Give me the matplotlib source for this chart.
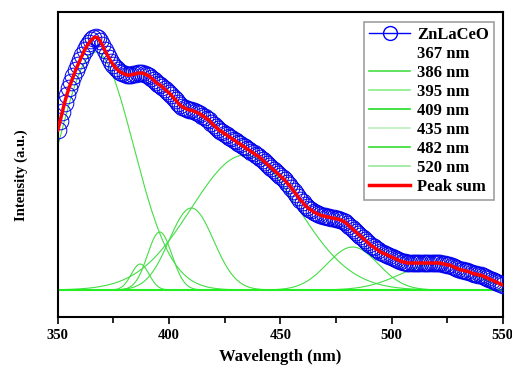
import numpy as np
import matplotlib
matplotlib.use('Agg')
import matplotlib.pyplot as plt
from matplotlib.lines import Line2D

plt.rcParams['font.family'] = ['Liberation Serif', 'DejaVu Serif']
plt.rcParams['font.weight'] = 'bold'

# measured spectrum, 350-550 nm every 1 nm (arb. units)
wavelength = np.arange(350, 551, 1)
intensity = [160, 169, 178, 187, 195, 202, 208, 214, 220, 225,   # 350
             230, 235, 240, 244, 247, 250, 252, 253, 252, 249,   # 360
             245, 240, 236, 232, 228, 225, 222, 220, 218, 217,   # 370
             216, 215, 215, 215, 216, 216, 217, 217, 217, 216,   # 380
             215, 214, 212, 210, 208, 206, 205, 203, 201, 199,   # 390
             197, 195, 192, 190, 187, 185, 183, 182, 181, 180,   # 400
             180, 179, 178, 177, 176, 174, 173, 171, 170, 167,   # 410
             165, 163, 161, 159, 158, 156, 155, 153, 152, 150,   # 420
             149, 147, 146, 144, 143, 141, 140, 138, 137, 135,   # 430
             134, 132, 130, 128, 126, 124, 122, 120, 118, 116,   # 440
             114, 112, 110, 107, 105, 102, 99, 96, 93, 90,       # 450
             88, 85, 83, 81, 80, 78, 77, 76, 75, 74,             # 460
             74, 73, 73, 72, 72, 71, 71, 70, 69, 68,             # 470
             66, 64, 62, 60, 58, 56, 54, 52, 50, 48,             # 480
             46, 44, 43, 41, 40, 38, 37, 36, 35, 34,             # 490
             33, 32, 31, 30, 29, 28, 28, 27, 27, 27,             # 500
             27, 27, 27, 27, 27, 27, 27, 27, 27, 27,             # 510
             27, 27, 27, 26, 26, 25, 25, 24, 23, 22,             # 520
             21, 20, 20, 19, 19, 18, 17, 16, 16, 15,             # 530
             15, 14, 13, 12, 11, 10, 9, 8, 7, 6,                 # 540
             5]                                                  # 550

# fitted peaks
peak_names = ['367 nm', '386 nm', '395 nm', '409 nm', '435 nm', '482 nm', '520 nm']
peak_center = [367, 387, 395.8, 410, 434, 482.5, 520]
peak_height = [238, 26, 58, 82, 135, 43, 26]
peak_sigma = [17, 4, 5.5, 10, 24, 11.5, 16]
peak_colors = ['#44dd44', '#44dd44', '#88ee88', '#22dd22', '#bbf0bb', '#33dd33', '#99e899']

x = np.linspace(350, 550, 801)

fig = plt.figure(figsize=(5.12, 3.65), dpi=100)
ax = fig.add_axes([0.113, 0.1315, 0.869, 0.8355])

ax.plot(wavelength, intensity, '-o', color='#0000ff', mfc='none', mec='#0000ee',
        ms=12, mew=0.7, lw=1, zorder=3)

for c, h, s in zip(peak_center, peak_height, peak_sigma):
    ax.plot(x, h * np.exp(-(x - c) ** 2 / (2 * s ** 2)), color='#44dd44', lw=0.8, zorder=2)
ax.axhline(0, color='#22ee22', lw=1.5, zorder=2)

ax.plot(wavelength, intensity, color='red', lw=2.5, zorder=4)

ax.set_xlim(350, 550)
ax.set_ylim(-27, 278)
ax.set_xticks([350, 400, 450, 500, 550])
ax.set_xticks([375, 425, 475, 525], minor=True)
ax.set_yticks([])
ax.tick_params(axis='x', which='major', direction='out', length=5, width=1.2, labelsize=10.5)
ax.tick_params(axis='x', which='minor', direction='out', length=4, width=1.2)
for sp in ax.spines.values():
    sp.set_linewidth(1.5)
ax.set_xlabel('Wavelength (nm)', fontsize=12, fontweight='bold', labelpad=5)
ax.set_ylabel('Intensity (a.u.)', fontsize=10.5, fontweight='bold')
ax.yaxis.set_label_coords(-0.067, 0.466)

handles = [Line2D([], [], color='#0000ff', marker='o', mfc='none', ms=10, mew=1, lw=1)]
for name, col in zip(peak_names, peak_colors):
    handles.append(Line2D([], [], color='white' if name == '367 nm' else col, lw=1.2))
handles.append(Line2D([], [], color='red', lw=2.5))
labels = ['ZnLaCeO'] + peak_names + ['Peak sum']
leg = ax.legend(handles, labels, loc='upper right', bbox_to_anchor=(0.98, 0.967),
                borderaxespad=0, fontsize=12, frameon=True, fancybox=False,
                edgecolor='#888888', handlelength=2.5, labelspacing=0.18,
                borderpad=0.3, handletextpad=0.4)
leg.get_frame().set_linewidth(1.2)
for t in leg.get_texts():
    t.set_fontweight('bold')

fig.savefig('out.png', dpi=100)
